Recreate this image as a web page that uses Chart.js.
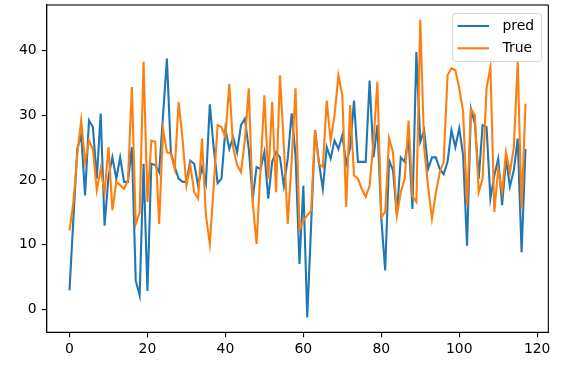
<!DOCTYPE html>
<html>
<head>
<meta charset="utf-8">
<script src="https://cdn.jsdelivr.net/npm/chart.js@4"></script>
<style>
  html, body { margin: 0; padding: 0; background: #fff; }
  #wrap { width: 563px; height: 369px; }
</style>
</head>
<body>
<div id="wrap"><canvas id="chart" width="563" height="369"></canvas></div>
<script>
// values
const pred = [
    2.9, 14, 24.8, 27, 17.6, 29.2, 28.2, 20.2, 30.3, 12.9,
    20.5, 23.5, 20.2, 23.5, 19.7, 19.7, 25.1, 4.4, 2.1, 22.5,
    2.8, 22.5, 22.3, 21.2, 30, 38.8, 24.3, 22, 20.2, 19.7,
    19.7, 23, 22.5, 19.1, 22, 19.5, 31.7, 25, 19.5, 20.2,
    27.9, 24.8, 26.6, 24.3, 28.5, 29.5, 24.8, 17.1, 22, 21.7,
    24.3, 17.1, 22.8, 24.3, 23.5, 19.1, 23.3, 30.3, 23.8, 7,
    19.1, -1.3, 13, 27.7, 22.7, 18.6, 25.1, 23.3, 26.1, 24.8,
    26.9, 22.5, 25, 32.3, 22.8, 22.8, 22.8, 35.4, 23.5, 28.5,
    14, 6, 23, 21.5, 14.5, 23.5, 22.8, 26.4, 15.5, 39.8,
    25.9, 27.7, 21.7, 23.5, 23.5, 21.7, 20.9, 22.8, 27.7, 25.1,
    28, 23.8, 9.8, 31, 28.8, 20.2, 28.5, 28.2, 17.1, 20.7,
    23.3, 16.1, 23.3, 19, 21.5, 26.4, 8.8, 24.8
];
const trueVals = [
    12.2, 16.6, 24, 29.2, 22.8, 26.1, 24.8, 18.4, 21.7, 18.1,
    25.1, 15.3, 19.7, 19.2, 18.6, 20, 34.4, 13.2, 15, 38.3,
    16.6, 26.1, 25.9, 13.2, 27.9, 24.3, 24.1, 21.7, 32.1, 26.4,
    19.1, 22.3, 18.1, 17.1, 26.4, 14.5, 10.1, 19, 28.5, 28.2,
    26.6, 34.9, 25, 22.3, 21.2, 26.1, 34.2, 16.6, 10.1, 21.6,
    33.1, 20.2, 32.1, 18.1, 36.2, 25.3, 13.2, 23, 34.2, 12.2,
    13.7, 14.5, 15.2, 27.7, 22.5, 22, 32.3, 26.1, 30, 36.2,
    33.1, 15.8, 31.6, 20.7, 20.2, 18.6, 17.4, 19.1, 26, 35.2,
    14.2, 15, 26.4, 24.3, 14.5, 18.1, 20.2, 29.2, 17.5, 16.6,
    44.8, 25, 19, 14, 18, 21.2, 22.8, 36.2, 37.3, 37,
    34.2, 30.5, 16.1, 31, 30, 18.1, 20.2, 34.2, 37.5, 15,
    21.7, 18.1, 24.3, 21.2, 25, 38.3, 15.5, 31.8
];
const xIndex = pred.map((_, i) => i);
const xTicks = [0, 20, 40, 60, 80, 100, 120];
const yTicks = [0, 10, 20, 30, 40];

const FONT = "'DejaVu Sans', sans-serif";

// box on the top and right, plus legend drawn like matplotlib
const framePlugin = {
    id: 'frame',
    afterDatasetsDraw(chart) {
        const ctx = chart.ctx;
        const a = chart.chartArea;
        ctx.save();
        ctx.strokeStyle = '#000';
        ctx.lineWidth = 1.1;
        ctx.strokeRect(a.left, a.top, a.right - a.left, a.bottom - a.top);

        // legend
        const lx = 452.5, ly = 13.5, lw = 89, lh = 48, r = 3;
        ctx.beginPath();
        ctx.moveTo(lx + r, ly);
        ctx.arcTo(lx + lw, ly, lx + lw, ly + lh, r);
        ctx.arcTo(lx + lw, ly + lh, lx, ly + lh, r);
        ctx.arcTo(lx, ly + lh, lx, ly, r);
        ctx.arcTo(lx, ly, lx + lw, ly, r);
        ctx.closePath();
        ctx.fillStyle = 'rgba(255,255,255,0.8)';
        ctx.fill();
        ctx.strokeStyle = '#d5d5d5';
        ctx.lineWidth = 1;
        ctx.stroke();

        ctx.font = '13.9px ' + FONT;
        ctx.textBaseline = 'middle';
        chart.data.datasets.forEach((ds, k) => {
            const y = 26 + k * 22.3;
            ctx.strokeStyle = ds.borderColor;
            ctx.lineWidth = 2.1;
            ctx.beginPath();
            ctx.moveTo(457.5, y);
            ctx.lineTo(489, y);
            ctx.stroke();
            ctx.fillStyle = '#000';
            ctx.fillText(ds.label, 502.5, y);
        });
        ctx.restore();
    }
};

function noPad(s) {
    s.paddingTop = 0;
    s.paddingBottom = 0;
    s.paddingLeft = 0;
    s.paddingRight = 0;
}

new Chart(document.getElementById('chart').getContext('2d'), {
    type: 'line',
    data: {
        labels: xIndex,
        datasets: [{
            label: 'pred',
            data: xIndex.map(i => ({ x: i, y: pred[i] })),
            borderColor: '#1f77b4',
            borderWidth: 2.1,
            pointRadius: 0,
            tension: 0,
            fill: false,
            order: 1
        }, {
            label: 'True',
            data: xIndex.map(i => ({ x: i, y: trueVals[i] })),
            borderColor: '#ff7f0e',
            borderWidth: 2.1,
            pointRadius: 0,
            tension: 0,
            fill: false,
            order: 0
        }]
    },
    options: {
        responsive: false,
        animation: false,
        events: [],
        layout: { padding: { top: 5, right: 14.7, left: 0, bottom: 0 } },
        plugins: {
            legend: { display: false },
            tooltip: { enabled: false }
        },
        scales: {
            x: {
                type: 'linear',
                min: -5.85,
                max: 122.85,
                afterBuildTicks: s => { s.ticks = xTicks.map(v => ({ value: v })); },
                afterFit: s => { s.height = 36.7; noPad(s); },
                grid: { drawOnChartArea: false, drawTicks: true, tickLength: 5, color: '#000', lineWidth: 1.1 },
                border: { display: true, color: '#000', width: 1.1 },
                ticks: { color: '#000', padding: 4, maxRotation: 0, font: { family: FONT, size: 13.9 } }
            },
            y: {
                type: 'linear',
                min: -3.6,
                max: 47.1,
                afterBuildTicks: s => { s.ticks = yTicks.map(v => ({ value: v })); },
                afterFit: s => { s.width = 46.7; noPad(s); },
                grid: { drawOnChartArea: false, drawTicks: true, tickLength: 5, color: '#000', lineWidth: 1.1 },
                border: { display: true, color: '#000', width: 1.1 },
                ticks: { color: '#000', padding: 5, font: { family: FONT, size: 13.9 } }
            }
        }
    },
    plugins: [framePlugin]
});
</script>
</body>
</html>
